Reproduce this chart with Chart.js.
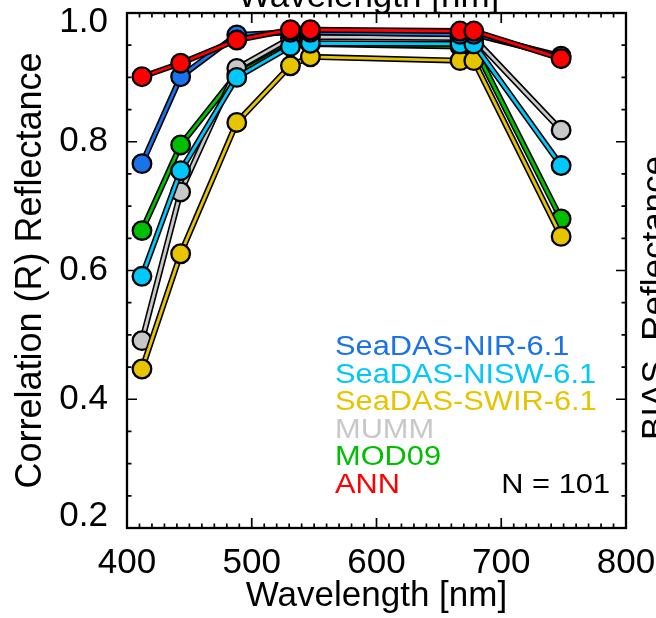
<!DOCTYPE html>
<html>
<head>
<meta charset="utf-8">
<script src="https://cdn.jsdelivr.net/npm/chart.js@4/dist/chart.umd.min.js"></script>
<style>
  html, body { margin: 0; padding: 0; background: #ffffff; }
  canvas { display: block; }
</style>
</head>
<body>
<canvas id="chart" width="656" height="618"></canvas>
<script>
// MODIS band centres (nm)
const wavelengths = [412, 443, 488, 531, 547, 667, 678, 748];

// Correlation coefficient per band for each atmospheric correction
const seadasNir  = [0.766, 0.901, 0.966, 0.970, 0.970, 0.967, 0.967, 0.933];
const seadasNisw = [0.591, 0.755, 0.900, 0.948, 0.953, 0.952, 0.952, 0.763];
const seadasSwir = [0.447, 0.626, 0.830, 0.918, 0.932, 0.926, 0.926, 0.653];
const mumm       = [0.491, 0.722, 0.914, 0.961, 0.963, 0.961, 0.961, 0.818];
const mod09      = [0.662, 0.795, 0.905, 0.950, 0.952, 0.948, 0.948, 0.680];
const ann        = [0.901, 0.922, 0.958, 0.974, 0.974, 0.972, 0.972, 0.929];

const seriesNames  = ['SeaDAS-NIR-6.1', 'SeaDAS-NISW-6.1', 'SeaDAS-SWIR-6.1', 'MUMM', 'MOD09', 'ANN'];
const seriesValues = [seadasNir, seadasNisw, seadasSwir, mumm, mod09, ann];
const seriesColors = ['#1a73ea', '#00c8fa', '#e6c400', '#c8c8c8', '#00be00', '#ff0000'];
// stacking rank: 0 is drawn on top
const seriesRank   = [1, 2, 3, 4, 5, 0];

const xTicks = [400, 500, 600, 700, 800];
const yTicks = [0.2, 0.4, 0.6, 0.8, 1.0];
const sampleLabel = 'N = 101';

const FONT = "'Liberation Sans', Arial, Helvetica, sans-serif";

const datasets = [];
seriesValues.forEach((vals, i) => {
  const pts = wavelengths.map((w, k) => ({ x: w, y: vals[k] }));
  // black casing under the coloured line
  datasets.push({
    label: seriesNames[i] + ' outline',
    data: pts,
    borderColor: '#000000',
    borderWidth: 6,
    pointRadius: 0,
    borderJoinStyle: 'round',
    borderCapStyle: 'round',
    fill: false,
    order: seriesRank[i] * 2 + 1
  });
  datasets.push({
    label: seriesNames[i],
    data: pts,
    borderColor: seriesColors[i],
    borderWidth: 2.8,
    pointRadius: 9.3,
    pointBorderWidth: 2.3,
    pointBorderColor: '#000000',
    pointBackgroundColor: seriesColors[i],
    borderJoinStyle: 'round',
    fill: false,
    order: seriesRank[i] * 2
  });
});

// white page
const pageBackground = {
  id: 'pageBackground',
  beforeDraw(chart) {
    const ctx = chart.ctx;
    ctx.save();
    ctx.fillStyle = '#ffffff';
    ctx.fillRect(0, 0, chart.width, chart.height);
    ctx.restore();
  }
};

// end labels of the y axis sit just inside the frame
const yLabelNudge = {
  id: 'yLabelNudge',
  beforeDraw(chart) {
    const items = chart.scales.y.getLabelItems();
    items.forEach(it => {
      if (it.label === '1.0') it.options.translation[1] += 9;
      if (it.label === '0.2') it.options.translation[1] -= 12;
    });
  }
};

// box frame with inward major/minor ticks on all four sides
const frameTicks = {
  id: 'frameTicks',
  beforeDatasetsDraw(chart) {
    const { ctx, chartArea: a, scales: { x, y } } = chart;
    ctx.save();
    ctx.strokeStyle = '#000000';
    ctx.lineCap = 'butt';
    ctx.lineWidth = 1.7;
    for (let w = 400; w <= 800; w += 10) {
      const px = x.getPixelForValue(w);
      const len = (w % 100 === 0) ? 10 : 4.5;
      ctx.beginPath();
      ctx.moveTo(px, a.bottom); ctx.lineTo(px, a.bottom - len);
      ctx.moveTo(px, a.top); ctx.lineTo(px, a.top + len);
      ctx.stroke();
    }
    for (let k = 0; k <= 16; k++) {
      const v = 0.2 + k * 0.05;
      const py = y.getPixelForValue(v);
      const len = (k % 4 === 0) ? 10 : 4.5;
      ctx.beginPath();
      ctx.moveTo(a.left, py); ctx.lineTo(a.left + len, py);
      ctx.moveTo(a.right, py); ctx.lineTo(a.right - len, py);
      ctx.stroke();
    }
    ctx.lineWidth = 2.3;
    ctx.strokeRect(a.left, a.top, a.right - a.left, a.bottom - a.top);
    ctx.restore();
  }
};

// series key, sample count and neighbouring panel titles
const annotations = {
  id: 'annotations',
  afterDraw(chart) {
    const ctx = chart.ctx;
    const baseY = 355, step = 27.6, stretch = 1.14;
    ctx.save();
    ctx.font = '27px ' + FONT;
    ctx.textBaseline = 'alphabetic';
    ctx.scale(stretch, 1);
    ctx.textAlign = 'left';
    seriesNames.forEach((name, i) => {
      ctx.fillStyle = seriesColors[i];
      ctx.fillText(name, 335 / stretch, baseY + i * step);
    });
    ctx.fillStyle = '#000000';
    ctx.textAlign = 'right';
    ctx.fillText(sampleLabel, 610 / stretch, baseY + 5 * step);
    ctx.restore();

    ctx.save();
    ctx.fillStyle = '#000000';
    ctx.font = '35px ' + FONT;
    ctx.textAlign = 'left';
    ctx.textBaseline = 'alphabetic';
    ctx.fillText('Wavelength [nm]', 238, 7);
    ctx.translate(666, 440);
    ctx.rotate(-Math.PI / 2);
    ctx.fillText('BIAS  Reflectance', 0, 0);
    ctx.restore();
  }
};

function dropScalePadding(scale) {
  scale.paddingLeft = 0;
  scale.paddingRight = 0;
  scale.paddingTop = 0;
  scale.paddingBottom = 0;
}

new Chart(document.getElementById('chart'), {
  type: 'line',
  data: { datasets },
  options: {
    responsive: false,
    animation: false,
    events: [],
    layout: { padding: { left: 0, right: 30, top: 13, bottom: 0 } },
    plugins: { legend: { display: false }, tooltip: { enabled: false } },
    scales: {
      x: {
        type: 'linear',
        min: 400,
        max: 800,
        afterBuildTicks(scale) { scale.ticks = xTicks.map(v => ({ value: v })); },
        afterFit(scale) { scale.height = 90; dropScalePadding(scale); },
        grid: { display: false },
        border: { display: false },
        ticks: {
          color: '#000000',
          font: { family: FONT, size: 35, lineHeight: 1.2 },
          padding: 6,
          maxRotation: 0,
          autoSkip: false,
          callback: v => String(v)
        },
        title: {
          display: true,
          text: 'Wavelength [nm]',
          color: '#000000',
          font: { family: FONT, size: 35, lineHeight: 1.2 },
          padding: { top: 0, bottom: 1 }
        }
      },
      y: {
        type: 'linear',
        min: 0.2,
        max: 1.0,
        afterBuildTicks(scale) { scale.ticks = yTicks.map(v => ({ value: v })); },
        afterFit(scale) { scale.width = 127; dropScalePadding(scale); },
        grid: { display: false },
        border: { display: false },
        ticks: {
          color: '#000000',
          font: { family: FONT, size: 35, lineHeight: 0.6 },
          padding: 11,
          autoSkip: false,
          callback: v => Number(v).toFixed(1)
        },
        title: {
          display: true,
          text: 'Correlation (R) Reflectance',
          color: '#000000',
          font: { family: FONT, size: 36, lineHeight: 1.2 },
          padding: { top: 9, bottom: 0 }
        }
      }
    }
  },
  plugins: [pageBackground, yLabelNudge, frameTicks, annotations]
});
</script>
</body>
</html>
